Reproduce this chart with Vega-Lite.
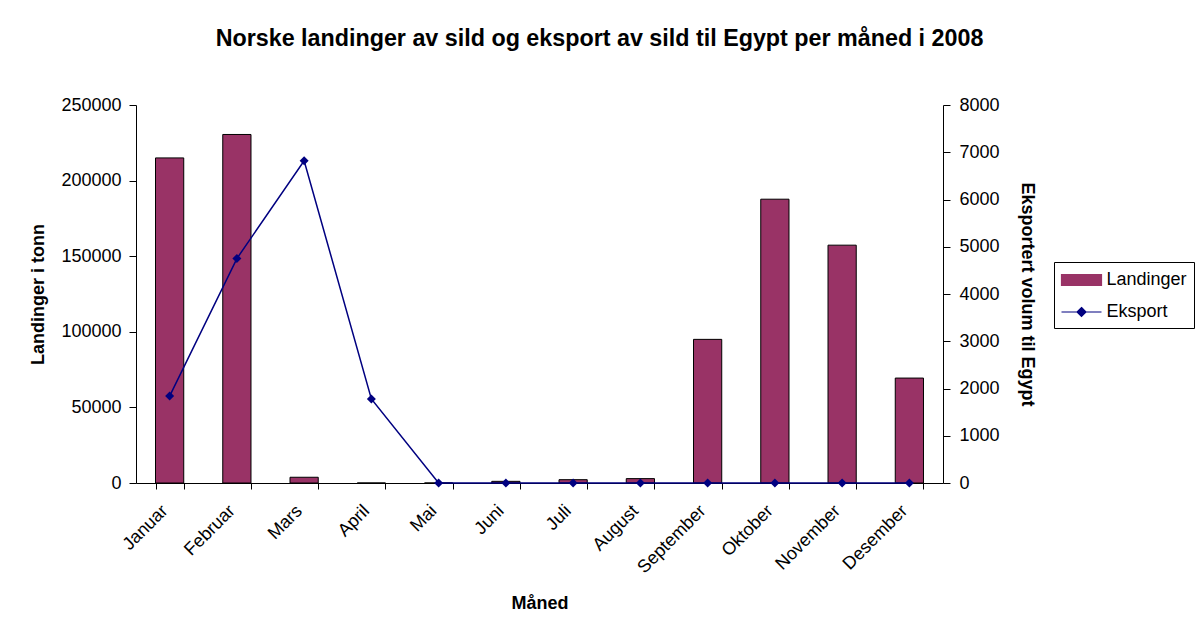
{
  "$schema": "https://vega.github.io/schema/vega-lite/v6.json",
  "width": 807,
  "height": 378,
  "padding": {"left": 29, "top": 26, "right": 0, "bottom": 0},
  "background": "white",
  "config": {
    "font": "Liberation Sans",
    "view": {"stroke": null},
    "axis": {
      "grid": false,
      "labelFont": "Liberation Sans",
      "titleFont": "Liberation Sans",
      "labelFontSize": 18,
      "titleFontSize": 18,
      "titleFontWeight": "bold",
      "labelColor": "black",
      "titleColor": "black",
      "domainColor": "black",
      "tickColor": "black",
      "domainWidth": 1,
      "tickWidth": 1
    },
    "legend": {
      "title": null,
      "orient": "none",
      "legendX": 918,
      "legendY": 157,
      "strokeColor": "black",
      "fillColor": "white",
      "padding": 7,
      "labelFont": "Liberation Sans",
      "labelFontSize": 18,
      "labelColor": "black",
      "labelOffset": 14,
      "symbolOffset": 9.5,
      "rowPadding": 12,
      "symbolSize": 400
    }
  },
  "title": {
    "text": "Norske landinger av sild og eksport av sild til Egypt per måned i 2008",
    "font": "Liberation Sans",
    "fontSize": 23.3,
    "fontWeight": "bold",
    "color": "black",
    "anchor": "middle",
    "frame": "group",
    "dx": 60,
    "offset": 45
  },
  "data": {
    "values": [
      {"maned": "Januar", "landinger": 215000, "eksport": 1840},
      {"maned": "Februar", "landinger": 230500, "eksport": 4750},
      {"maned": "Mars", "landinger": 3800, "eksport": 6820},
      {"maned": "April", "landinger": 0, "eksport": 1780},
      {"maned": "Mai", "landinger": 0, "eksport": 0},
      {"maned": "Juni", "landinger": 1100, "eksport": 0},
      {"maned": "Juli", "landinger": 2200, "eksport": 0},
      {"maned": "August", "landinger": 2900, "eksport": 0},
      {"maned": "September", "landinger": 95000, "eksport": 0},
      {"maned": "Oktober", "landinger": 187700, "eksport": 0},
      {"maned": "November", "landinger": 157300, "eksport": 0},
      {"maned": "Desember", "landinger": 69400, "eksport": 0}
    ]
  },
  "encoding": {
    "x": {
      "field": "maned",
      "type": "nominal",
      "sort": null,
      "scale": {"paddingInner": 0.58, "paddingOuter": 0.29},
      "axis": {
        "title": "Måned",
        "labelAngle": -45,
        "labelAlign": "right",
        "labelBaseline": "middle",
        "labelOffset": -5,
        "tickBand": "extent",
        "tickSize": 6,
        "labelPadding": 19,
        "titlePadding": 18
      }
    }
  },
  "layer": [
    {
      "mark": {"type": "bar", "stroke": "black", "strokeWidth": 1},
      "encoding": {
        "y": {
          "field": "landinger",
          "type": "quantitative",
          "scale": {"domain": [0, 250000], "nice": false},
          "axis": {
            "orient": "left",
            "title": "Landinger i tonn",
            "values": [0, 50000, 100000, 150000, 200000, 250000],
            "format": "d",
            "tickSize": 7,
            "labelPadding": 8,
            "titlePadding": 13
          }
        },
        "color": {
          "datum": "Landinger",
          "type": "nominal",
          "scale": {"domain": ["Landinger", "Eksport"], "range": ["#993366", "#000080"]},
          "legend": {
            "encode": {
              "symbols": {
                "update": {
                  "shape": {"signal": "datum.value === 'Landinger' ? 'M-2,-0.55H2V0.55H-2Z' : 'M-2,0H2M0,-0.45L0.45,0L0,0.45L-0.45,0Z'"},
                  "fill": {"signal": "datum.value === 'Landinger' ? '#993366' : '#000080'"},
                  "stroke": {"signal": "datum.value === 'Landinger' ? 'black' : '#000080'"},
                  "strokeWidth": {"value": 1.2},
                  "fillOpacity": {"value": 1},
                  "opacity": {"value": 1}
                }
              }
            }
          }
        }
      }
    },
    {
      "mark": {
        "type": "line",
        "strokeWidth": 1.5,
        "point": {"shape": "diamond", "size": 81, "filled": true, "opacity": 1}
      },
      "encoding": {
        "y": {
          "field": "eksport",
          "type": "quantitative",
          "scale": {"domain": [0, 8000], "nice": false},
          "axis": {
            "orient": "right",
            "title": "Eksportert volum til Egypt",
            "values": [0, 1000, 2000, 3000, 4000, 5000, 6000, 7000, 8000],
            "format": "d",
            "tickSize": 7,
            "labelPadding": 9,
            "titlePadding": 18
          }
        },
        "color": {
          "datum": "Eksport",
          "type": "nominal",
          "legend": {
            "encode": {
              "symbols": {
                "update": {
                  "shape": {"signal": "datum.value === 'Landinger' ? 'M-2,-0.55H2V0.55H-2Z' : 'M-2,0H2M0,-0.45L0.45,0L0,0.45L-0.45,0Z'"},
                  "fill": {"signal": "datum.value === 'Landinger' ? '#993366' : '#000080'"},
                  "stroke": {"signal": "datum.value === 'Landinger' ? 'black' : '#000080'"},
                  "strokeWidth": {"value": 1.2},
                  "fillOpacity": {"value": 1},
                  "opacity": {"value": 1}
                }
              }
            }
          }
        }
      }
    }
  ],
  "resolve": {"scale": {"y": "independent"}}
}
